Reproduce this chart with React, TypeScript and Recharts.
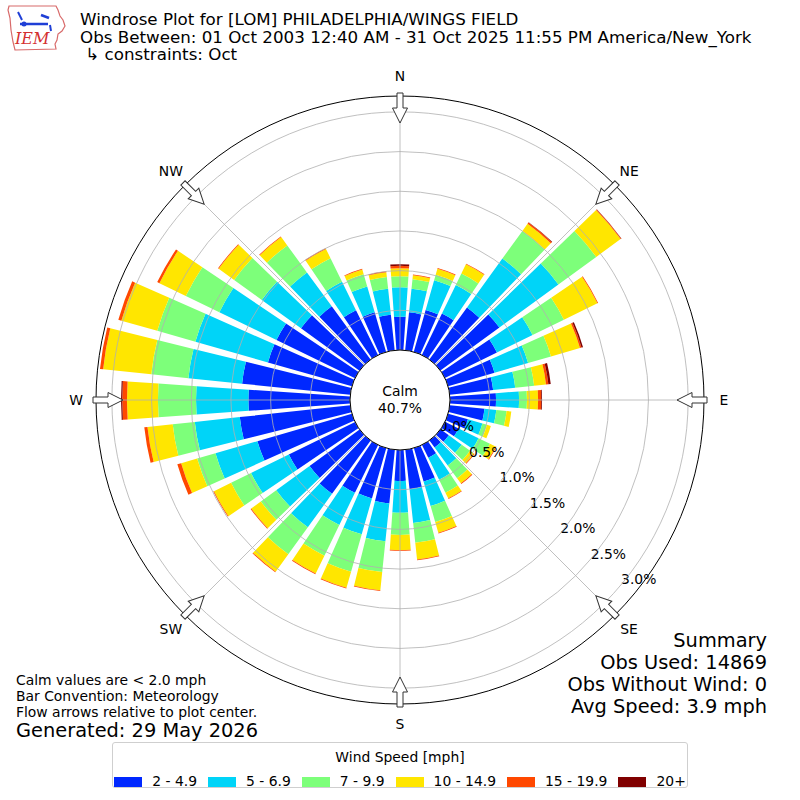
import {
  RadialBarChart, RadialBar, PolarAngleAxis, PolarRadiusAxis, PolarGrid, Legend,
} from 'recharts';

// direction bins (degrees, meteorological convention, 10 deg wide)
const directions = [
  0, 10, 20, 30, 40, 50, 60, 70, 80, 90, 100, 110,
  120, 130, 140, 150, 160, 170, 180, 190, 200, 210, 220, 230,
  240, 250, 260, 270, 280, 290, 300, 310, 320, 330, 340, 350,
];

const speedBins = ['2 - 4.9', '5 - 6.9', '7 - 9.9', '10 - 14.9', '15 - 19.9', '20+'];
const binColors = ['#0028ff', '#00d4f8', '#7dff7a', '#ffe600', '#ff4800', '#800000'];

// percent of observations per direction and speed bin
const s2to5 = [0.42, 0.48, 0.55, 0.58, 0.81, 0.92, 0.73, 0.61, 0.55, 0.58, 0.44, 0.26,
  0.19, 0.13, 0.11, 0.18, 0.44, 0.50, 0.39, 0.68, 0.66, 0.67, 0.83, 0.78,
  0.93, 1.24, 1.40, 1.28, 1.37, 1.10, 1.10, 0.91, 0.83, 0.63, 0.52, 0.45];
const s5to7 = [0.37, 0.30, 0.39, 0.40, 0.76, 0.92, 0.50, 0.44, 0.28, 0.29, 0.15, 0.19,
  0.28, 0.20, 0.28, 0.31, 0.32, 0.43, 0.40, 0.48, 0.47, 0.45, 0.52, 0.52,
  0.53, 0.55, 0.57, 0.66, 0.68, 0.95, 0.80, 0.61, 0.53, 0.40, 0.34, 0.33];
const s7to10 = [0.14, 0.12, 0.07, 0.16, 0.43, 0.59, 0.44, 0.30, 0.24, 0.10, 0.13, 0.06,
  0.16, 0.13, 0.20, 0.18, 0.21, 0.25, 0.28, 0.39, 0.49, 0.43, 0.42, 0.24,
  0.28, 0.24, 0.28, 0.48, 0.47, 0.50, 0.47, 0.43, 0.42, 0.33, 0.16, 0.15];
const s10to15 = [0.10, 0.05, 0.08, 0.13, 0.11, 0.38, 0.47, 0.38, 0.15, 0.14, 0.06, 0.05,
  0.08, 0.06, 0.08, 0.08, 0.14, 0.21, 0.19, 0.23, 0.21, 0.25, 0.27, 0.15,
  0.24, 0.21, 0.32, 0.39, 0.61, 0.47, 0.37, 0.24, 0.13, 0.13, 0.06, 0.06];
const s15to20 = [0.03, 0.01, 0.01, 0.01, 0.02, 0.01, 0.01, 0.02, 0.03, 0.04, 0, 0,
  0.01, 0.01, 0.01, 0.01, 0.01, 0.01, 0.01, 0.01, 0.01, 0.01, 0.01, 0.01,
  0.01, 0.05, 0.04, 0.06, 0.04, 0.04, 0.03, 0.01, 0.01, 0.01, 0.01, 0.01];
const s20plus = [0.02, 0, 0, 0, 0.005, 0.003, 0, 0.02, 0.03, 0.01, 0, 0,
  0, 0, 0, 0, 0, 0, 0, 0, 0, 0, 0, 0,
  0, 0, 0, 0.015, 0, 0, 0, 0, 0, 0, 0, 0];

const radiusTicks = [0, 0.5, 1.0, 1.5, 2.0, 2.5, 3.0];
const compassAngles = [0, 45, 90, 135, 180, 225, 270, 315];
const compassLabels = ['N', 'NE', 'E', 'SE', 'S', 'SW', 'W', 'NW'];

const calmPct = '40.7%';
const titleLines = [
  'Windrose Plot for [LOM] PHILADELPHIA/WINGS FIELD',
  'Obs Between: 01 Oct 2003 12:40 AM - 31 Oct 2025 11:55 PM America/New_York',
  ' \u21b3 constraints: Oct',
];
const summaryLines = ['Summary', 'Obs Used: 14869', 'Obs Without Wind: 0', 'Avg Speed: 3.9 mph'];
const noteLines = ['Calm values are < 2.0 mph', 'Bar Convention: Meteorology', 'Flow arrows relative to plot center.'];

const series = [s2to5, s5to7, s7to10, s10to15, s15to20, s20plus];
const rows = directions.map((d, i) => {
  const row: Record<string, number | string> = { dir: String(d) };
  series.forEach((s, k) => { row['b' + k] = s[i]; });
  return row;
});

const CX = 400;
const CY = 400;
const INNER = 50;
const OUTER = 304;
const FONT = '"DejaVu Sans", sans-serif';
const FS = 13.9;

// shared polar geometry for the bar chart and the grid overlay
const polarProps = {
  width: 800,
  height: 800,
  data: rows,
  layout: 'centric' as const,
  cx: CX,
  cy: CY,
  innerRadius: INNER,
  outerRadius: OUTER,
  startAngle: 85,
  endAngle: -275,
  barCategoryGap: '11%',
  margin: { top: 0, right: 0, bottom: 0, left: 0 },
};

function RadiusTick(props: any) {
  const { x, y, payload } = props;
  return (
    <text x={x + 18} y={y - 6} textAnchor="middle" dominantBaseline="central"
      fontSize={FS} fontFamily={FONT} fill="#000">
      {Number(payload.value).toFixed(1)}%
    </text>
  );
}

// hollow arrows + labels around the rim
function Compass() {
  return (
    <g>
      {compassAngles.map((deg, i) => {
        const rad = (deg * Math.PI) / 180;
        const ux = Math.sin(rad);
        const uy = -Math.cos(rad);
        const r0 = OUTER + 8;
        return (
          <g key={deg}>
            <polygon
              points="-3,5 3,5 3,20 7.5,20 0,35 -7.5,20 -3,20"
              transform={`translate(${CX + ux * r0},${CY + uy * r0}) rotate(${deg})`}
              fill="#fff" stroke="#333" strokeWidth={1}
            />
            <text x={CX + ux * (r0 + 12)} y={CY + uy * (r0 + 12)} textAnchor="middle"
              dominantBaseline="central" fontSize={FS} fontFamily={FONT} fill="#000">
              {compassLabels[i]}
            </text>
          </g>
        );
      })}
    </g>
  );
}

function WindLegend() {
  return (
    <div style={{
      boxSizing: 'border-box', width: 576, height: 46, border: '1px solid #cfcfcf',
      borderRadius: 3, background: '#fff', fontFamily: FONT, fontSize: FS, color: '#000',
    }}>
      <div style={{ textAlign: 'center', marginTop: 6, lineHeight: '17px' }}>Wind Speed [mph]</div>
      <div style={{ display: 'flex', justifyContent: 'center', alignItems: 'center', marginTop: 7 }}>
        {speedBins.map((name, i) => (
          <div key={name} style={{ display: 'flex', alignItems: 'center', marginRight: i < speedBins.length - 1 ? 11 : 0 }}>
            <span style={{ display: 'inline-block', width: 28, height: 10, background: binColors[i], marginRight: 10 }} />
            <span style={{ lineHeight: '17px' }}>{name}</span>
          </div>
        ))}
      </div>
    </div>
  );
}

export default function App() {
  return (
    <div style={{ position: 'absolute', left: 0, top: 0, width: 800, height: 800, background: '#fff' }}>
      <RadialBarChart {...polarProps}>
        <PolarAngleAxis dataKey="dir" type="category" tick={false} tickLine={false}
          axisLineType="circle" axisLine={{ stroke: '#000', strokeWidth: 1 }} />
        <PolarRadiusAxis type="number" domain={[0, 3.2]} allowDataOverflow ticks={radiusTicks}
          angle={-40} axisLine={false} tick={<RadiusTick />} />
        {speedBins.map((name, i) => (
          <RadialBar key={name} dataKey={'b' + i} name={name} stackId="wind"
            fill={binColors[i]} isAnimationActive={false} />
        ))}
        <Legend content={() => <WindLegend />} layout="vertical" align="right" verticalAlign="middle"
          wrapperStyle={{ left: 112, top: 742, width: 576, height: 46, right: 'auto', bottom: 'auto' }} />
      </RadialBarChart>

      {/* grid drawn above the bars, as in the reference */}
      <div style={{ position: 'absolute', left: 0, top: 0, pointerEvents: 'none' }}>
        <RadialBarChart {...polarProps}>
          <PolarAngleAxis dataKey="dir" type="category" tick={false} tickLine={false} axisLine={false} />
          <PolarRadiusAxis type="number" domain={[0, 3.2]} allowDataOverflow ticks={radiusTicks}
            angle={-40} axisLine={false} tick={false} />
          <PolarGrid gridType="circle" polarAngles={compassAngles.map((a) => 90 - a)}
            stroke="#b0b0b0" strokeWidth={0.8} />
        </RadialBarChart>
      </div>

      <svg width={800} height={800} style={{ position: 'absolute', left: 0, top: 0, pointerEvents: 'none' }}>
        <Compass />

        {/* calm circle */}
        <circle cx={CX} cy={CY} r={INNER} fill="#fff" stroke="#000" strokeWidth={1} />
        <text x={CX} y={CY - 9} textAnchor="middle" dominantBaseline="central" fontSize={FS} fontFamily={FONT}>Calm</text>
        <text x={CX} y={CY + 8} textAnchor="middle" dominantBaseline="central" fontSize={FS} fontFamily={FONT}>{calmPct}</text>

        {/* IEM logo */}
        <path d="M9,6 L56,6 L58,10 L60,16 L63,20 L65,26 L62,31 L58,34 L57,40 L55,44 L56,49 L15,50 L13,42 L11,30 L10,18 L8,10 Z"
          fill="none" stroke="#d86a6a" strokeWidth={1.2} />
        <line x1={20} y1={24} x2={48} y2={24} stroke="#1f3fd6" strokeWidth={2.5} />
        <circle cx={24} cy={24} r={2.5} fill="#1f3fd6" />
        <line x1={18} y1={12} x2={22} y2={20} stroke="#1f3fd6" strokeWidth={2} />
        <line x1={41} y1={15} x2={49} y2={18} stroke="#1f3fd6" strokeWidth={2.5} />
        <line x1={50} y1={25} x2={51} y2={31} stroke="#1f3fd6" strokeWidth={2} />
        <text x={15} y={44} fontSize={16} fontStyle="italic" fontFamily='"DejaVu Serif", serif' fill="#d43030">IEM</text>

        {/* title */}
        {titleLines.map((t, i) => (
          <text key={t} x={80} y={25 + i * 17.6} fontSize={16.7} fontFamily={FONT} fill="#000" style={{ whiteSpace: 'pre' }}>{t}</text>
        ))}

        {/* notes */}
        {noteLines.map((t, i) => (
          <text key={t} x={16} y={684.5 + i * 16} fontSize={FS} fontFamily={FONT} fill="#000">{t}</text>
        ))}
        <text x={16} y={736.5} fontSize={19.4} fontFamily={FONT} fill="#000">Generated: 29 May 2026</text>

        {/* summary */}
        {summaryLines.map((t, i) => (
          <text key={t} x={767} y={646.5 + i * 22} textAnchor="end" fontSize={19.4} fontFamily={FONT} fill="#000">{t}</text>
        ))}
      </svg>
    </div>
  );
}
